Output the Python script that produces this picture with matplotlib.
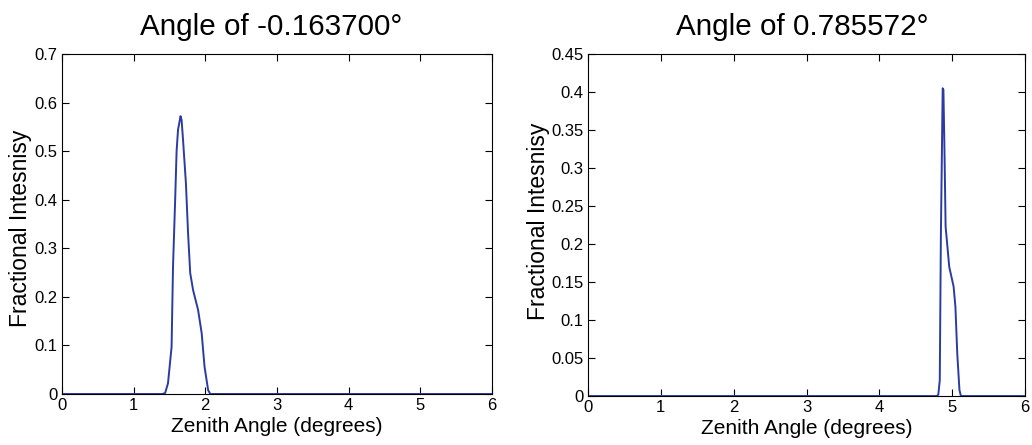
import numpy as np
import matplotlib.pyplot as plt

plt.rcParams['font.family'] = ['Liberation Sans', 'DejaVu Sans']

# left panel: angle -0.163700 deg
x_left = [0, 1.40, 1.44, 1.48, 1.53, 1.55, 1.58, 1.60, 1.62, 1.655, 1.67, 1.69, 1.73,
          1.76, 1.79, 1.83, 1.90, 1.95, 1.99, 2.04, 2.07, 6]
y_left = [0, 0, 0.002, 0.022, 0.097, 0.262, 0.40, 0.50, 0.544, 0.572, 0.564, 0.523, 0.434,
          0.331, 0.249, 0.214, 0.173, 0.125, 0.056, 0.008, 0, 0]

# right panel: angle 0.785572 deg
x_right = [0, 4.79, 4.81, 4.83, 4.845, 4.87, 4.88, 4.895, 4.91, 4.96, 5.02, 5.045,
           5.07, 5.10, 5.12, 6]
y_right = [0, 0, 0.002, 0.021, 0.21, 0.405, 0.403, 0.32, 0.223, 0.17, 0.144, 0.117,
           0.056, 0.008, 0, 0]

titles = ['Angle of -0.163700°', 'Angle of 0.785572°']
line_color = '#2b3ba3'

fig = plt.figure(figsize=(10.32, 4.45), dpi=100)
ax1 = fig.add_axes([0.060, 0.1146, 0.4167, 0.764])
ax2 = fig.add_axes([0.5698, 0.110, 0.4234, 0.7685])

# axes, x, y, ymax, yticks, ylabel pos, xlabel y, title x
panels = [(ax1, x_left, y_left, 0.7, np.arange(0, 0.71, 0.1), (-0.07, 0.488), -0.068, 0.486),
          (ax2, x_right, y_right, 0.45, np.arange(0, 0.451, 0.05), (-0.087, 0.51), -0.068, 0.49)]

for i, (ax, xs, ys, ymax, yt, ylpos, xly, tx) in enumerate(panels):
    ax.plot(xs, ys, color=line_color, lw=1.4)
    ax.set_xlim(0, 6)
    ax.set_ylim(0, ymax)
    ax.set_xticks(range(7))
    ax.set_yticks(yt)
    ax.set_yticklabels(['0'] + ['%g' % round(v, 2) for v in yt[1:]])
    ax.tick_params(direction='in', top=True, right=True, labelsize=12, length=5, pad=3)
    ax.set_title(titles[i], fontsize=21.3, pad=14, x=tx)
    ax.set_xlabel('Zenith Angle (degrees)', fontsize=15)
    ax.xaxis.set_label_coords(0.5, xly)
    ax.set_ylabel('Fractional Intesnisy', fontsize=16.5)
    ax.yaxis.set_label_coords(*ylpos)

plt.savefig('out.png', dpi=100)
